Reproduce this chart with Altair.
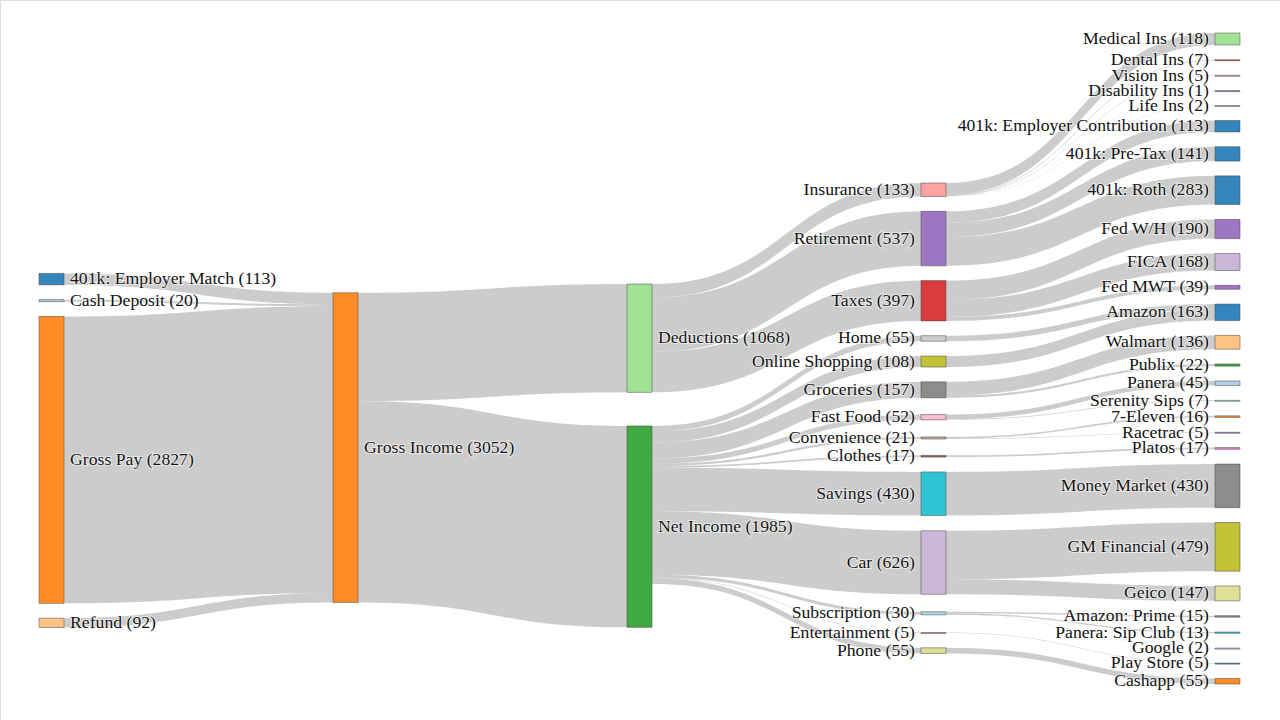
import altair as alt
import pandas as pd
import numpy as np

# ---------------- data ----------------
node_names = [
    "401k: Employer Match", "Cash Deposit", "Gross Pay", "Refund",
    "Gross Income",
    "Deductions", "Net Income",
    "Insurance", "Retirement", "Taxes", "Home", "Online Shopping", "Groceries",
    "Fast Food", "Convenience", "Clothes", "Savings", "Car", "Subscription",
    "Entertainment", "Phone",
    "Medical Ins", "Dental Ins", "Vision Ins", "Disability Ins", "Life Ins",
    "401k: Employer Contribution", "401k: Pre-Tax", "401k: Roth",
    "Fed W/H", "FICA", "Fed MWT", "Amazon", "Walmart", "Publix", "Panera",
    "Serenity Sips", "7-Eleven", "Racetrac", "Platos", "Money Market",
    "GM Financial", "Geico", "Amazon: Prime", "Panera: Sip Club", "Google",
    "Play Store", "Cashapp",
]

node_colors = [
    "#1f77b4", "#aec7e8", "#ff7f0e", "#ffbb78",
    "#ff7f0e",
    "#98df8a", "#2ca02c",
    "#ff9896", "#9467bd", "#d62728", "#c7c7c7", "#bcbd22", "#7f7f7f",
    "#f7b6d2", "#c49c94", "#8c564b", "#17becf", "#c5b0d5", "#9edae5",
    "#e377c2", "#dbdb8d",
    "#98df8a", "#d62728", "#ff9896", "#9467bd", "#c5b0d5",
    "#1f77b4", "#1f77b4", "#1f77b4",
    "#9467bd", "#c5b0d5", "#9467bd", "#1f77b4", "#ffbb78", "#2ca02c", "#aec7e8",
    "#9edae5", "#ff7f0e", "#9467bd", "#e377c2", "#7f7f7f",
    "#bcbd22", "#dbdb8d", "#7f7f7f", "#17becf", "#aec7e8",
    "#1f77b4", "#ff7f0e",
]

link_source = [
    "401k: Employer Match", "Cash Deposit", "Gross Pay", "Refund",
    "Gross Income", "Gross Income",
    "Deductions", "Deductions", "Deductions",
    "Net Income", "Net Income", "Net Income", "Net Income", "Net Income",
    "Net Income", "Net Income", "Net Income", "Net Income", "Net Income", "Net Income",
    "Insurance", "Insurance", "Insurance", "Insurance", "Insurance",
    "Retirement", "Retirement", "Retirement",
    "Taxes", "Taxes", "Taxes",
    "Home", "Online Shopping", "Groceries", "Groceries",
    "Fast Food", "Fast Food", "Convenience", "Convenience", "Clothes",
    "Savings", "Car", "Car", "Subscription", "Subscription", "Subscription",
    "Entertainment", "Phone",
]
link_target = [
    "Gross Income", "Gross Income", "Gross Income", "Gross Income",
    "Deductions", "Net Income",
    "Insurance", "Retirement", "Taxes",
    "Home", "Online Shopping", "Groceries", "Fast Food", "Convenience",
    "Clothes", "Savings", "Car", "Subscription", "Entertainment", "Phone",
    "Medical Ins", "Dental Ins", "Vision Ins", "Disability Ins", "Life Ins",
    "401k: Employer Contribution", "401k: Pre-Tax", "401k: Roth",
    "Fed W/H", "FICA", "Fed MWT",
    "Amazon", "Amazon", "Walmart", "Publix",
    "Panera", "Serenity Sips", "7-Eleven", "Racetrac", "Platos",
    "Money Market", "GM Financial", "Geico", "Amazon: Prime", "Panera: Sip Club", "Google",
    "Play Store", "Cashapp",
]
link_value = [
    113, 20, 2827, 92,
    1067.6, 1984.6,
    133, 537, 397,
    55, 108, 157.2, 52, 21, 17, 430, 626, 30, 5, 55,
    118, 7, 5, 1, 2,
    113, 141, 283,
    190, 168, 39,
    55, 108, 135.6, 21.6,
    45, 7, 16, 5, 17,
    430, 479, 147, 15, 13, 2,
    5, 55,
]

# ---------------- layout ----------------
W, H = 1280, 720
AX0, AX1, AY0, AY1 = 39, 1240, 33, 684
NODE_W = 25
PAD = 14.8
ITERATIONS = 50

N = len(node_names)
idx = {n: i for i, n in enumerate(node_names)}
L = len(link_value)
ls = [idx[s] for s in link_source]
lt = [idx[t] for t in link_target]
lv = [float(v) for v in link_value]

SL = [[] for _ in range(N)]
TL = [[] for _ in range(N)]
for k in range(L):
    SL[ls[k]].append(k)
    TL[lt[k]].append(k)

value = [max(sum(lv[k] for k in SL[i]), sum(lv[k] for k in TL[i])) for i in range(N)]

depth = [0] * N
current = list(range(N))
x = 0
while current:
    nxt = []
    for i in current:
        depth[i] = x
        for k in SL[i]:
            if lt[k] not in nxt:
                nxt.append(lt[k])
    current = nxt
    x += 1
ncols = x
layer = [depth[i] if SL[i] else ncols - 1 for i in range(N)]
kx = (AX1 - AX0 - NODE_W) / (ncols - 1)
nx0 = [AX0 + c * kx for c in layer]
columns = [[i for i in range(N) if layer[i] == c] for c in range(ncols)]

py = min(PAD, (AY1 - AY0) / (max(len(c) for c in columns) - 1))
ky = min((AY1 - AY0 - (len(c) - 1) * py) / sum(value[i] for i in c) for c in columns)
lw = [v * ky for v in lv]
hgt = [v * ky for v in value]


def layout_weighted_centres():
    y0 = [0.0] * N
    for c in columns:
        for j, i in enumerate(c):
            y0[i] = float(j)

    def cen(i):
        return y0[i] + hgt[i] / 2

    def resolve():
        for c in columns:
            yy = AY0
            for i in c:
                d = yy - y0[i]
                if d > 0:
                    y0[i] += d
                yy = y0[i] + hgt[i] + py
            d = yy - py - AY1
            if d > 0:
                last = c[-1]
                y0[last] -= d
                yy = y0[last]
                for i in reversed(c[:-1]):
                    d = y0[i] + hgt[i] + py - yy
                    if d > 0:
                        y0[i] -= d
                    yy = y0[i]

    resolve()
    alpha = 1.0
    for _ in range(ITERATIONS):
        alpha *= 0.99
        for c in reversed(columns):
            for i in c:
                if SL[i]:
                    m = sum(cen(lt[k]) * lv[k] for k in SL[i]) / sum(lv[k] for k in SL[i])
                    y0[i] += (m - cen(i)) * alpha
        resolve()
        for c in columns:
            for i in c:
                if TL[i]:
                    m = sum(cen(ls[k]) * lv[k] for k in TL[i]) / sum(lv[k] for k in TL[i])
                    y0[i] += (m - cen(i)) * alpha
        resolve()
    return y0


def layout_link_alignment():
    y0 = [0.0] * N
    sl = [list(v) for v in SL]
    tl = [list(v) for v in TL]
    for c in columns:
        yy = AY0
        for i in c:
            y0[i] = yy
            yy = y0[i] + hgt[i] + py
        extra = (AY1 - yy + py) / (len(c) + 1)
        for j, i in enumerate(c):
            y0[i] += extra * (j + 1)

    def sort_all():
        for i in range(N):
            sl[i].sort(key=lambda k: (y0[lt[k]], k))
            tl[i].sort(key=lambda k: (y0[ls[k]], k))

    sort_all()

    def target_top(s, t):
        y = y0[s] - (len(sl[s]) - 1) * py / 2
        for k in sl[s]:
            if lt[k] == t:
                break
            y += lw[k] + py
        for k in tl[t]:
            if ls[k] == s:
                break
            y -= lw[k]
        return y

    def source_top(s, t):
        y = y0[t] - (len(tl[t]) - 1) * py / 2
        for k in tl[t]:
            if ls[k] == s:
                break
            y += lw[k] + py
        for k in sl[s]:
            if lt[k] == t:
                break
            y -= lw[k]
        return y

    def t2b(nodes, y, i, a):
        while i < len(nodes):
            n = nodes[i]
            d = (y - y0[n]) * a
            if d > 1e-6:
                y0[n] += d
            y = y0[n] + hgt[n] + py
            i += 1

    def b2t(nodes, y, i, a):
        while i >= 0:
            n = nodes[i]
            d = (y0[n] + hgt[n] - y) * a
            if d > 1e-6:
                y0[n] -= d
            y = y0[n] - py
            i -= 1

    def resolve(nodes, a):
        i = len(nodes) >> 1
        s = nodes[i]
        b2t(nodes, y0[s] - py, i - 1, a)
        t2b(nodes, y0[s] + hgt[s] + py, i + 1, a)
        b2t(nodes, AY1, len(nodes) - 1, a)
        t2b(nodes, AY0, 0, a)

    for it in range(ITERATIONS):
        a = 0.99 ** it
        b = max(1 - a, (it + 1) / ITERATIONS)
        for ci in range(ncols - 2, -1, -1):
            col = columns[ci]
            for s in col:
                ys_, ws = 0.0, 0.0
                for k in sl[s]:
                    ys_ += source_top(s, lt[k]) * lv[k]
                    ws += lv[k]
                if ws > 0:
                    y0[s] += (ys_ / ws - y0[s]) * a
                    sort_all()
            resolve(col, b)
        for ci in range(1, ncols):
            col = columns[ci]
            for t in col:
                ys_, ws = 0.0, 0.0
                for k in tl[t]:
                    ys_ += target_top(ls[k], t) * lv[k]
                    ws += lv[k]
                if ws > 0:
                    y0[t] += (ys_ / ws - y0[t]) * a
                    sort_all()
            resolve(col, b)
    return y0


ya_ = layout_weighted_centres()
yb_ = layout_link_alignment()
y0 = [(p + q) / 2 for p, q in zip(ya_, yb_)]
y1 = [p + h for p, h in zip(y0, hgt)]

ly0 = [0.0] * L
ly1 = [0.0] * L
for i in range(N):
    yy = y0[i]
    for k in sorted(SL[i], key=lambda m: (y0[lt[m]], m)):
        ly0[k] = yy + lw[k] / 2
        yy += lw[k]
    yy = y0[i]
    for k in sorted(TL[i], key=lambda m: (y0[ls[m]], m)):
        ly1[k] = yy + lw[k] / 2
        yy += lw[k]

# link bands as polygons (cubic bezier edges, curvature 0.5)
ts = np.linspace(0, 1, 41)
features = []
for k in range(L):
    xa = nx0[ls[k]] + NODE_W
    xb = nx0[lt[k]]
    xm = (xa + xb) / 2
    ya, yb = ly0[k], ly1[k]
    u = 1 - ts
    bx = u**3 * xa + 3 * u * u * ts * xm + 3 * u * ts * ts * xm + ts**3 * xb
    by = u**3 * ya + 3 * u * u * ts * ya + 3 * u * ts * ts * yb + ts**3 * yb
    top = [[float(a), float(b - lw[k] / 2)] for a, b in zip(bx, by)]
    bot = [[float(a), float(b + lw[k] / 2)] for a, b in zip(bx, by)]
    ring = top + bot[::-1] + [top[0]]
    features.append({
        "type": "Feature",
        "properties": {"link": k},
        "geometry": {"type": "Polygon", "coordinates": [ring]},
    })

nodes_df = pd.DataFrame({
    "name": node_names,
    "color": node_colors,
    "nx0": nx0,
    "nx1": [v + NODE_W for v in nx0],
    "ny0": y0,
    "ny1": [max(b, a + 1.0) for a, b in zip(y0, y1)],
    "label": [f"{n} ({round(v)})" for n, v in zip(node_names, value)],
    "cy": [(a + b) / 2 for a, b in zip(y0, y1)],
    "right": [nx0[i] + NODE_W / 2 < W / 2 for i in range(N)],
})
nodes_df["lx"] = np.where(nodes_df["right"], nodes_df["nx1"] + 6, nodes_df["nx0"] - 6)

xs = alt.Scale(domain=[0, W], nice=False, zero=False)
ys = alt.Scale(domain=[0, H], nice=False, zero=False, reverse=True)

links_layer = alt.Chart(alt.Data(values=features)).mark_geoshape(
    fill="#000000", fillOpacity=0.2, strokeWidth=0
).project(type="identity", scale=1, translate=[0, 0])

nodes_layer = alt.Chart(nodes_df).mark_rect(fillOpacity=0.9, stroke="#444444", strokeWidth=0.5).encode(
    x=alt.X("nx0:Q", scale=xs, axis=None),
    x2="nx1:Q",
    y=alt.Y("ny0:Q", scale=ys, axis=None),
    y2="ny1:Q",
    fill=alt.Fill("color:N", scale=None),
)

FONT = "Liberation Serif"
FS = 17.7


def text_layers(align, flag):
    base = alt.Chart(nodes_df).transform_filter(
        alt.datum.right if flag else ~alt.datum.right
    ).encode(
        x=alt.X("lx:Q", scale=xs, axis=None),
        y=alt.Y("cy:Q", scale=ys, axis=None),
        text="label:N",
    )
    halo = base.mark_text(align=align, baseline="middle", font=FONT, fontSize=FS,
                          color="white", stroke="white", strokeWidth=2, strokeOpacity=0.6)
    txt = base.mark_text(align=align, baseline="middle", font=FONT, fontSize=FS, color="#111111")
    return [halo, txt]


chart = alt.layer(
    links_layer, nodes_layer, *text_layers("left", True), *text_layers("right", False)
).properties(
    width=W, height=H, padding=0, autosize=alt.AutoSizeParams(type="none")
).configure_view(stroke=None).configure(background="white")

chart.save("out.html", embed_options={"renderer": "svg", "actions": False})
